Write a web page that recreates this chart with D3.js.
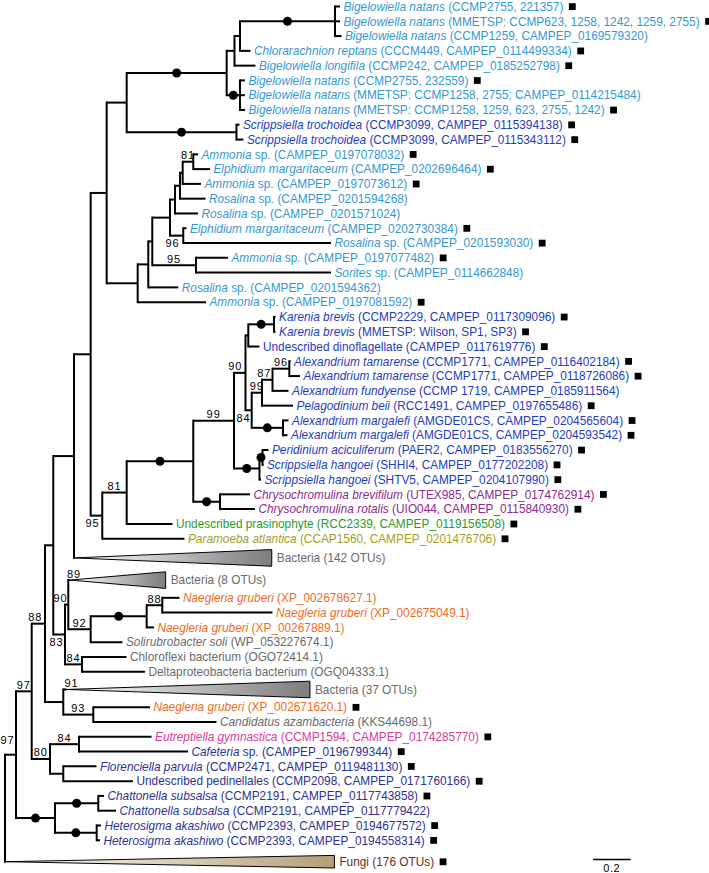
<!DOCTYPE html>
<html>
<head>
<meta charset="utf-8">
<script src="https://cdn.jsdelivr.net/npm/d3@7/dist/d3.min.js"></script>
<style>
  body { margin: 0; background: #fff; }
  text { font-family: "Liberation Sans", Arial, Helvetica, sans-serif; }
</style>
</head>
<body>
<svg id="tree" width="709" height="873"></svg>
<script>
// branches: [child, parent, branch length (substitutions/site)], siblings listed top to bottom
const branches = [
  ["T","root",0.0585], ["L57","root",0],
  ["W","T",0.0835], ["V","T",0.2074],
  ["AA","W",0.0707], ["N80","W",0.0973],
  ["X","AA",0.0441], ["N91","AA",0.0973],
  ["S","X",0.1101], ["Z","X",0.0622],
  ["Q","S",0.0888], ["L38","S",0],
  ["B","Q",0.0851], ["N95","Q",0.0617],
  ["A","B",0.1064], ["G","B",0.1649],
  ["C","A",0.5319], ["ST","A",0.584],
  ["D","C",0.0415], ["NN","C",0.0707],
  ["E","D",0.0293], ["L05","D",0.1117],
  ["F","E",0.5053], ["L04","E",0.0559],
  ["L01","F",0.0266], ["L02","F",0.0266], ["L03","F",0.0346],
  ["L06","NN",0.0266], ["L07","NN",0.0266], ["L08","NN",0.0266],
  ["L09","ST",0.016], ["L10","ST",0.0372],
  ["H","G",0.0564], ["L21","G",0.3633],
  ["I","H",0.0213], ["L20","H",0.1596],
  ["J","I",0.0941], ["N95f","I",0.2324],
  ["K","J",0.0266], ["N96f","J",0.0707],
  ["Lf","K",0.0266], ["L15","K",0.1223],
  ["P","Lf",0.0144], ["L14","Lf",0.1356],
  ["N81f","P",0.0564], ["L13","P",0.0973],
  ["L11","N81f",0.025], ["L12","N81f",0.0888],
  ["L16","N96f",0.017], ["L17","N96f",0.7856],
  ["L18","N95f",0.1702], ["L19","N95f",0.7181],
  ["N81","N95",0.1298], ["L37","N95",0.4372],
  ["DD","N81",0.3543], ["L36","N81",0.2436],
  ["N99","DD",0.2165], ["CH","DD",0.142],
  ["N90","N99",0.0612], ["PS","N99",0.1356],
  ["KU","N90",0.0149], ["N84d","N90",0.033],
  ["KB","KU",0.1367], ["L24","KU",0.0596],
  ["L22","KB",0.008], ["L23","KB",0.008],
  ["N99a","N84d",0.0548], ["AM","N84d",0.1665],
  ["N87","N99a",0.0559], ["L28","N99a",0.1649],
  ["N96a","N87",0.0894], ["L27","N87",0.0851],
  ["L25","N96a",0.0064], ["L26","N96a",0.0569],
  ["L29","AM",0.0293], ["L30","AM",0.0239],
  ["A1","PS",0.016], ["L33","PS",0.008],
  ["L31","A1",0.0319], ["L32","A1",0.0053],
  ["L34","CH",0.1596], ["L35","CH",0.1862],
  ["Y","Z",0.0176], ["N84c","Z",0.0904],
  ["L39","Y",0.009], ["N92","Y",0.1191],
  ["NG","N92",0.2979], ["L43","N92",0.1691],
  ["N88","NG",0.083], ["L42","NG",0.0388],
  ["L40","N88",0.0915], ["L41","N88",0.5862],
  ["L44","N84c",0.2367], ["L45","N84c",0.3351],
  ["L46","N91",0.0181], ["N93","N91",0.1596],
  ["L47","N93",0.3016], ["L48","N93",0.6553],
  ["N84e","N80",0.1543], ["FP","N80",0.0707],
  ["L49","N84e",0.3856], ["L50","N84e",0.5798],
  ["L51","FP",0.1766], ["L52","FP",0.3707],
  ["Chat","V",0.2303], ["Het","V",0.2218],
  ["L53","Chat",0.0303], ["L54","Chat",0.0941],
  ["L55","Het",0.0229], ["L56","Het",0.0176]
];

// taxa: [id, italic part, plain part, group, marked with a square]
const taxa = [
  ["L01","Bigelowiella natans"," (CCMP2755, 221357)","rhizaria",1],
  ["L02","Bigelowiella natans"," (MMETSP: CCMP623, 1258, 1242, 1259, 2755)","rhizaria",1],
  ["L03","Bigelowiella natans"," (CCMP1259, CAMPEP_0169579320)","rhizaria",0],
  ["L04","Chlorarachnion reptans"," (CCCM449, CAMPEP_0114499334)","rhizaria",1],
  ["L05","Bigelowiella longifila"," (CCMP242, CAMPEP_0185252798)","rhizaria",1],
  ["L06","Bigelowiella natans"," (CCMP2755, 232559)","rhizaria",1],
  ["L07","Bigelowiella natans"," (MMETSP: CCMP1258, 2755; CAMPEP_0114215484)","rhizaria",0],
  ["L08","Bigelowiella natans"," (MMETSP: CCMP1258, 1259, 623, 2755, 1242)","rhizaria",1],
  ["L09","Scrippsiella trochoidea"," (CCMP3099, CAMPEP_0115394138)","alveolata",1],
  ["L10","Scrippsiella trochoidea"," (CCMP3099, CAMPEP_0115343112)","alveolata",1],
  ["L11","Ammonia"," sp. (CAMPEP_0197078032)","rhizaria",1],
  ["L12","Elphidium margaritaceum"," (CAMPEP_0202696464)","rhizaria",1],
  ["L13","Ammonia"," sp. (CAMPEP_0197073612)","rhizaria",1],
  ["L14","Rosalina"," sp. (CAMPEP_0201594268)","rhizaria",0],
  ["L15","Rosalina"," sp. (CAMPEP_0201571024)","rhizaria",0],
  ["L16","Elphidium margaritaceum"," (CAMPEP_0202730384)","rhizaria",1],
  ["L17","Rosalina"," sp. (CAMPEP_0201593030)","rhizaria",1],
  ["L18","Ammonia"," sp. (CAMPEP_0197077482)","rhizaria",1],
  ["L19","Sorites"," sp. (CAMPEP_0114662848)","rhizaria",0],
  ["L20","Rosalina"," sp. (CAMPEP_0201594362)","rhizaria",0],
  ["L21","Ammonia"," sp. (CAMPEP_0197081592)","rhizaria",1],
  ["L22","Karenia brevis"," (CCMP2229, CAMPEP_0117309096)","alveolata",1],
  ["L23","Karenia brevis"," (MMETSP: Wilson, SP1, SP3)","alveolata",1],
  ["L24","","Undescribed dinoflagellate (CAMPEP_0117619776)","alveolata",1],
  ["L25","Alexandrium tamarense"," (CCMP1771, CAMPEP_0116402184)","alveolata",1],
  ["L26","Alexandrium tamarense"," (CCMP1771, CAMPEP_0118726086)","alveolata",1],
  ["L27","Alexandrium fundyense"," (CCMP 1719, CAMPEP_0185911564)","alveolata",0],
  ["L28","Pelagodinium beii"," (RCC1491, CAMPEP_0197655486)","alveolata",1],
  ["L29","Alexandrium margalefi"," (AMGDE01CS, CAMPEP_0204565604)","alveolata",1],
  ["L30","Alexandrium margalefi"," (AMGDE01CS, CAMPEP_0204593542)","alveolata",1],
  ["L31","Peridinium aciculiferum"," (PAER2, CAMPEP_0183556270)","alveolata",1],
  ["L32","Scrippsiella hangoei"," (SHHI4, CAMPEP_0177202208)","alveolata",1],
  ["L33","Scrippsiella hangoei"," (SHTV5, CAMPEP_0204107990)","alveolata",1],
  ["L34","Chrysochromulina brevifilum"," (UTEX985, CAMPEP_0174762914)","haptophyta",1],
  ["L35","Chrysochromulina rotalis"," (UIO044, CAMPEP_0115840930)","haptophyta",1],
  ["L36","","Undescribed prasinophyte (RCC2339, CAMPEP_0119156508)","viridiplantae",1],
  ["L37","Paramoeba atlantica"," (CCAP1560, CAMPEP_0201476706)","amoebozoa",1],
  ["L38","","Bacteria (142 OTUs)","bacteria",0],
  ["L39","","Bacteria (8 OTUs)","bacteria",0],
  ["L40","Naegleria gruberi"," (XP_002678627.1)","excavata",0],
  ["L41","Naegleria gruberi"," (XP_002675049.1)","excavata",0],
  ["L42","Naegleria gruberi"," (XP_00267889.1)","excavata",0],
  ["L43","Solirubrobacter soli"," (WP_053227674.1)","bacteria",0],
  ["L44","","Chloroflexi bacterium (OGO72414.1)","bacteria",0],
  ["L45","","Deltaproteobacteria bacterium (OGQ04333.1)","bacteria",0],
  ["L46","","Bacteria (37 OTUs)","bacteria",0],
  ["L47","Naegleria gruberi"," (XP_002671620.1)","excavata",1],
  ["L48","Candidatus azambacteria"," (KKS44698.1)","bacteria",0],
  ["L49","Eutreptiella gymnastica"," (CCMP1594, CAMPEP_0174285770)","euglenozoa",1],
  ["L50","Cafeteria"," sp. (CAMPEP_0196799344)","stramenopiles",1],
  ["L51","Florenciella parvula"," (CCMP2471, CAMPEP_0119481130)","stramenopiles",1],
  ["L52","","Undescribed pedinellales (CCMP2098, CAMPEP_0171760166)","stramenopiles",1],
  ["L53","Chattonella subsalsa"," (CCMP2191, CAMPEP_0117743858)","stramenopiles",1],
  ["L54","Chattonella subsalsa"," (CCMP2191, CAMPEP_0117779422)","stramenopiles",0],
  ["L55","Heterosigma akashiwo"," (CCMP2393, CAMPEP_0194677572)","stramenopiles",1],
  ["L56","Heterosigma akashiwo"," (CCMP2393, CAMPEP_0194558314)","stramenopiles",1],
  ["L57","","Fungi (176 OTUs)","fungi",1]
];

// collapsed clades: [id, clade depth, rows taken]
const collapsed = [
  ["L38",1.052,1.6],
  ["L39",0.509,1.4],
  ["L46",1.294,1.4],
  ["L57",1.752,1.9]
];

// bootstrap support shown as numbers (80-99)
const support = [
  ["N81f",81],["N96f",96],["N95f",95],["N96a",96],["N87",87],["N99a",99],
  ["N90",90],["N84d",84],["N99",99],["N81",81],["N95",95],["Y",90],
  ["L39",89],["N88",88],["N92",92],["Z",83],["N84c",84],["AA",88],
  ["L46",91],["N93",93],["N84e",84],["N80",80],["W",97],["T",97]
];

// branches with 100% support (drawn as dots)
const fullSupport = ["C","F","NN","ST","DD","CH","KB","AM","PS","A1","NG","V","Chat","Het"];

const scaleBarValue = 0.2;

const groupColor = {
  rhizaria: "#3597d2",
  alveolata: "#1e3cbe",
  haptophyta: "#8c2a8e",
  viridiplantae: "#2a9a2a",
  amoebozoa: "#a69d1e",
  bacteria: "#6a6a6a",
  excavata: "#f06b1c",
  euglenozoa: "#d63b98",
  stramenopiles: "#2e3192",
  fungi: "#6e2a22"
};

// small hand tweaks of support label placement
const labelTweak = {
  N96f: {dx: -4, below: true}, N95: {dx: -4, below: true}, Z: {dx: -2.5, below: true},
  N84d: {dx: -5, below: true}, Y: {dx: -6}, L39: {dx: 5}, L46: {dx: 6.5},
  T: {dx: -3, dy: -8}, AA: {dx: -3}, N87: {dx: -3}, N90: {dx: -4.5}
};

var svg = d3.select("#tree");
const fontSize = 11.85;

const rows = [{id: "root", parent: null, length: 0}]
  .concat(branches.map(b => ({id: b[0], parent: b[1], length: b[2]})));
const root = d3.stratify().id(d => d.id).parentId(d => d.parent)(rows);

const taxonById = new Map(taxa.map(t => [t[0], t]));
const collapsedById = new Map(collapsed.map(c => [c[0], c]));
const supportById = new Map(support);

root.eachBefore(n => { n.dist = n.parent ? n.parent.dist + n.data.length : 0; });

// leaf slots, collapsed clades take more room
var slot = 0, prevRows = null;
root.leaves().forEach(l => {
  const c = collapsedById.get(l.id);
  const r = c ? c[2] : 1;
  if (prevRows !== null) slot += (prevRows + r) / 2;
  l.slot = slot;
  prevRows = r;
});

const x = d3.scaleLinear().domain([0, 1]).range([5, 193]);
const y = d3.scaleLinear().domain([0, slot]).range([6.5, 861.7]);

root.eachAfter(n => {
  if (n.children) {
    n.y = (n.children[0].y + n.children[n.children.length - 1].y) / 2;
  } else {
    n.y = y(n.slot);
  }
});

const defs = svg.append("defs");
const gradBact = defs.append("linearGradient").attr("id", "gradBact");
gradBact.append("stop").attr("offset", "0%").attr("stop-color", "#ffffff");
gradBact.append("stop").attr("offset", "100%").attr("stop-color", "#7d7d7d");
const gradFungi = defs.append("linearGradient").attr("id", "gradFungi");
gradFungi.append("stop").attr("offset", "0%").attr("stop-color", "#ffffff");
gradFungi.append("stop").attr("offset", "100%").attr("stop-color", "#b59f76");

// horizontal branches
svg.selectAll(".hbranch")
  .data(root.descendants().filter(d => d.parent && d.data.length > 0))
  .enter()
  .append("line")
  .attr("class", "hbranch")
  .attr("x1", d => x(d.parent.dist))
  .attr("x2", d => x(d.dist))
  .attr("y1", d => d.y)
  .attr("y2", d => d.y)
  .style("stroke", "black")
  .style("stroke-width", 2);

// vertical connectors
svg.selectAll(".vbranch")
  .data(root.descendants().filter(d => d.children))
  .enter()
  .append("line")
  .attr("class", "vbranch")
  .attr("x1", d => x(d.dist))
  .attr("x2", d => x(d.dist))
  .attr("y1", d => d.children[0].y)
  .attr("y2", d => d.children[d.children.length - 1].y)
  .style("stroke", "black")
  .style("stroke-width", 2)
  .style("stroke-linecap", "square");

// collapsed clades
const triHalf = {L57: 6.3};
const tri = root.leaves().filter(l => collapsedById.has(l.id));
svg.selectAll(".clade")
  .data(tri)
  .enter()
  .append("polygon")
  .attr("class", "clade")
  .attr("points", d => {
    const ax = x(d.dist), rx = x(d.dist + collapsedById.get(d.id)[1]);
    const h = triHalf[d.id] || 8.3;
    return [[ax, d.y], [rx, d.y - h], [rx, d.y + h]].map(p => p.join(",")).join(" ");
  })
  .style("fill", d => taxonById.get(d.id)[3] === "fungi" ? "url(#gradFungi)" : "url(#gradBact)")
  .style("stroke", "black")
  .style("stroke-width", 1);

// 100% support dots
svg.selectAll(".dot")
  .data(root.descendants().filter(d => fullSupport.includes(d.id)))
  .enter()
  .append("circle")
  .attr("class", "dot")
  .attr("cx", d => (x(d.parent.dist) + x(d.dist)) / 2)
  .attr("cy", d => d.y)
  .attr("r", 4.5)
  .style("fill", "black");

// support values
svg.selectAll(".support")
  .data(root.descendants().filter(d => supportById.has(d.id)))
  .enter()
  .append("text")
  .attr("class", "support")
  .attr("x", d => (x(d.parent.dist) + x(d.dist)) / 2 + ((labelTweak[d.id] || {}).dx || 0))
  .attr("y", d => {
    const t = labelTweak[d.id] || {};
    return (t.below ? d.y + 11.5 : d.y - 2.5) + (t.dy || 0);
  })
  .attr("text-anchor", "middle")
  .style("font-size", "11px")
  .style("letter-spacing", "0.9px")
  .style("fill", "black")
  .text(d => supportById.get(d.id));

// taxon labels
const labels = svg.selectAll(".taxon")
  .data(root.leaves())
  .enter()
  .append("text")
  .attr("class", "taxon")
  .attr("x", d => {
    const c = collapsedById.get(d.id);
    return c ? x(d.dist + c[1]) + 5 : x(d.dist) + 3.5;
  })
  .attr("y", d => d.y)
  .attr("dy", "0.36em")
  .style("font-size", fontSize + "px")
  .style("fill", d => groupColor[taxonById.get(d.id)[3]]);

labels.each(function(d) {
  const t = taxonById.get(d.id);
  const el = d3.select(this);
  if (t[1]) el.append("tspan").style("font-style", "italic").text(t[1]);
  el.append("tspan").text(t[2]);
});

// black squares
labels.filter(d => taxonById.get(d.id)[4]).each(function(d) {
  const len = this.getComputedTextLength();
  const x0 = +d3.select(this).attr("x");
  svg.append("rect")
    .attr("x", x0 + len + 5.5)
    .attr("y", d.y - 3.3)
    .attr("width", 6.8)
    .attr("height", 6.8)
    .style("fill", "black");
});

// scale bar
const barX = 593, barY = 859.5;
svg.append("line")
  .attr("x1", barX)
  .attr("x2", barX + x(scaleBarValue) - x(0))
  .attr("y1", barY)
  .attr("y2", barY)
  .style("stroke", "black")
  .style("stroke-width", 1.5);
svg.append("text")
  .attr("x", barX + (x(scaleBarValue) - x(0)) / 2)
  .attr("y", 872)
  .attr("text-anchor", "middle")
  .style("font-size", "11px")
  .style("letter-spacing", "0.6px")
  .text(scaleBarValue);
</script>
</body>
</html>
